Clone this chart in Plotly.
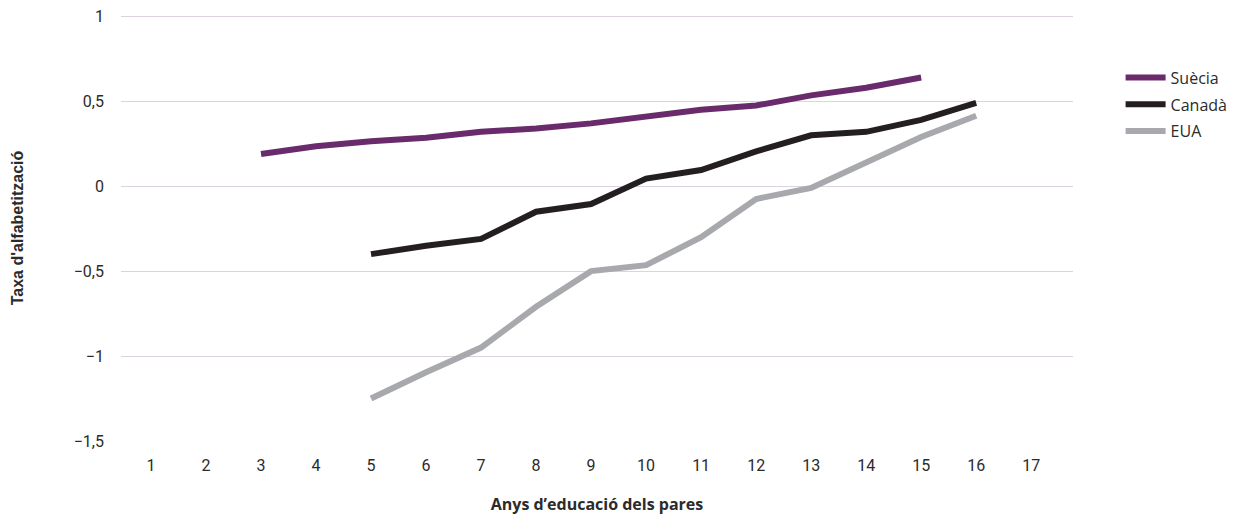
import plotly.graph_objects as go

years = list(range(1, 18))
x_suecia = list(range(3, 16))
suecia = [0.19, 0.235, 0.265, 0.285, 0.32, 0.34, 0.37, 0.41, 0.45, 0.475, 0.535, 0.58, 0.64]
x_canada = list(range(5, 17))
canada = [-0.40, -0.35, -0.31, -0.15, -0.105, 0.045, 0.095, 0.205, 0.30, 0.32, 0.39, 0.49]
x_eua = list(range(5, 17))
eua = [-1.25, -1.095, -0.95, -0.71, -0.50, -0.465, -0.30, -0.075, -0.01, 0.14, 0.29, 0.415]

y_ticks = [1, 0.5, 0, -0.5, -1, -1.5]
y_ticktext = ["1", "0,5", "0", "\u22120,5", "\u22121", "\u22121,5"]

font_family = "Roboto, sans-serif"
text_color = "#2b2b2b"

fig = go.Figure()
fig.add_trace(go.Scatter(x=x_suecia, y=suecia, mode="lines", name="Suècia",
                         legendgroup="s", line=dict(color="#692b6c", width=6)))
fig.add_trace(go.Scatter(x=x_canada, y=canada, mode="lines", name="Canadà",
                         legendgroup="c", line=dict(color="#231f20", width=6)))
fig.add_trace(go.Scatter(x=x_eua, y=eua, mode="lines", name="EUA",
                         legendgroup="e", line=dict(color="#a7a9ac", width=6)))

fig.update_layout(
    width=1240, height=515,
    autosize=False,
    margin=dict(l=121, r=167, t=15, b=74, pad=0, autoexpand=False),
    paper_bgcolor="white", plot_bgcolor="white",
    font=dict(family=font_family, size=16, color=text_color),
    showlegend=True,
    legend=dict(x=1.050, y=0.893, xanchor="left", yanchor="top",
                font=dict(family="Open Sans, sans-serif", size=16, color=text_color),
                tracegroupgap=3, itemwidth=40),
)
fig.update_xaxes(
    range=[0.455, 17.76], tickvals=years, ticktext=[str(v) for v in years],
    showgrid=False, zeroline=False, showline=False, ticks="", automargin=False,
    ticklabelstandoff=13, tickfont=dict(size=16),
    title=dict(text="<b>Anys d\u2019educació dels pares</b>", standoff=25,
               font=dict(family="Open Sans, sans-serif", size=16, color=text_color)),
)
fig.update_yaxes(
    range=[-1.5, 1.008], tickvals=y_ticks, ticktext=y_ticktext,
    showgrid=True, gridcolor="#dcd2e2", gridwidth=1, zeroline=False,
    showline=False, ticks="", automargin=False, ticklabelstandoff=16,
    tickfont=dict(size=16),
    title=dict(text="<b>Taxa d'alfabetització</b>", standoff=46,
               font=dict(family="Liberation Sans, Arial, sans-serif", size=16,
                         color=text_color)),
)

fig.write_html("out.html", config={"displayModeBar": False},
               post_script="document.body.style.margin='0';")
